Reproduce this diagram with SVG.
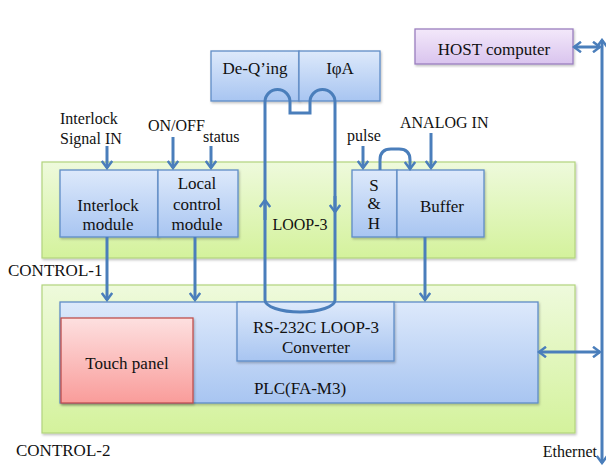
<svg xmlns="http://www.w3.org/2000/svg" width="606" height="468" viewBox="0 0 606 468" font-family="'Liberation Serif', 'DejaVu Serif', 'Times New Roman', serif">
<defs>
<linearGradient id="gGreen" x1="0" y1="0" x2="0" y2="1"><stop offset="0" stop-color="#eefadc"/><stop offset="1" stop-color="#d4f29c"/></linearGradient>
<linearGradient id="gBlue" x1="0" y1="0" x2="0" y2="1"><stop offset="0" stop-color="#dde9fb"/><stop offset="1" stop-color="#a8c5f1"/></linearGradient>
<linearGradient id="gPink" x1="0" y1="0" x2="0" y2="1"><stop offset="0" stop-color="#fde0e0"/><stop offset="1" stop-color="#f99c9a"/></linearGradient>
<linearGradient id="gPurple" x1="0" y1="0" x2="0" y2="1"><stop offset="0" stop-color="#f3e8fa"/><stop offset="1" stop-color="#d9c4ee"/></linearGradient>
<filter id="sh" x="-5%" y="-5%" width="110%" height="115%"><feDropShadow dx="1" dy="1.5" stdDeviation="1" flood-color="#000" flood-opacity="0.25"/></filter>
<marker id="arr" viewBox="0 0 12 12" refX="10" refY="6" markerWidth="12" markerHeight="12" markerUnits="userSpaceOnUse" orient="auto-start-reverse">
<path d="M3,0.8 L10,6 L3,11.2" fill="none" stroke="#4a7ebb" stroke-width="2.5" stroke-linejoin="miter"/>
</marker>
</defs>
<style>
text{font-family:'Liberation Serif','DejaVu Serif','Times New Roman',serif;font-size:17px;fill:#111}
.c{text-anchor:middle}
.sm{font-size:16px}
.green{fill:url(#gGreen);stroke:#b2d47e;stroke-width:1.2;filter:url(#sh)}
.blue{fill:url(#gBlue);stroke:#5f8cc6;stroke-width:1.3;filter:url(#sh)}
.pink{fill:url(#gPink);stroke:#c0504d;stroke-width:1.3;filter:url(#sh)}
.purple{fill:url(#gPurple);stroke:#9a7fbf;stroke-width:1.3;filter:url(#sh)}
.ln{fill:none;stroke:#4a7ebb;stroke-width:3}
.a{fill:none;stroke:#4a7ebb;stroke-width:3;marker-end:url(#arr)}
.aa{fill:none;stroke:#4a7ebb;stroke-width:3;marker-end:url(#arr);marker-start:url(#arr)}
</style>

<g id="control1">
<rect class="green" x="42" y="162" width="533" height="96"/>
<text x="8" y="276">CONTROL-1</text>
</g>
<g id="control2">
<rect class="green" x="42" y="285" width="533" height="148"/>
<text x="16" y="456">CONTROL-2</text>
</g>

<g id="host">
<rect class="purple" x="415" y="29" width="158" height="35"/>
<text class="c" x="494" y="55">HOST computer</text>
</g>

<g id="deq">
<rect class="blue" x="211" y="51" width="88" height="50"/>
<text class="c" x="255" y="74">De-Q’ing</text>
</g>
<g id="ipa">
<rect class="blue" x="299" y="51" width="81" height="50"/>
<text class="c" x="340" y="74">IφA</text>
</g>

<g id="interlock">
<rect class="blue" x="60" y="170" width="98" height="67"/>
<text class="c" x="108" y="211">Interlock</text>
<text class="c" x="108" y="230">module</text>
</g>
<g id="localcontrol">
<rect class="blue" x="158" y="170" width="80" height="67"/>
<text class="c" x="197" y="189">Local</text>
<text class="c" x="197" y="210">control</text>
<text class="c" x="197" y="230">module</text>
</g>
<g id="sh">
<rect class="blue" x="352" y="170" width="45" height="67"/>
<text class="c" x="374" y="191">S</text>
<text class="c" x="374" y="209">&amp;</text>
<text class="c" x="374" y="229">H</text>
</g>
<g id="buffer">
<rect class="blue" x="397" y="170" width="87" height="67"/>
<text class="c" x="442" y="212">Buffer</text>
</g>

<g id="plc">
<rect class="blue" x="60" y="302" width="478" height="101"/>
<text class="c" x="300" y="394">PLC(FA-M3)</text>
</g>
<g id="touch">
<rect class="pink" x="61" y="318" width="132" height="85"/>
<text class="c" x="127" y="369">Touch panel</text>
</g>
<g id="rs232">
<rect class="blue" x="237" y="302" width="157" height="59"/>
<text class="c" x="316" y="333">RS-232C LOOP-3</text>
<text class="c" x="316" y="353">Converter</text>
</g>

<g id="labels">
<text class="sm" x="60" y="124">Interlock</text>
<text class="sm" x="60" y="144">Signal IN</text>
<text class="sm" x="148" y="131">ON/OFF</text>
<text class="sm" x="203" y="142">status</text>
<text class="sm" x="347" y="141">pulse</text>
<text class="sm" x="400" y="128">ANALOG IN</text>
<text class="sm c" x="300" y="230">LOOP-3</text>
<text class="sm" x="597" y="457" text-anchor="end">Ethernet</text>
</g>

<g id="connectors">
<path class="ln" d="M265,300 V102 A12.5,12.5 0 0 1 290,102 V113 H310 V102 A12.5,12.5 0 0 1 335,102 V300 A35,12 0 0 1 265,300 Z"/>
<path class="a" d="M265,220 V200"/>
<path class="a" d="M335,196 V212"/>
<path class="aa" d="M602,40 V463"/>
<path class="aa" d="M574,47 H600"/>
<path class="aa" d="M539,352 H600"/>
<path class="a" d="M107,146 V168"/>
<path class="a" d="M173,137 V168"/>
<path class="a" d="M211,146 V168"/>
<path class="a" d="M363,146 V168"/>
<path class="a" d="M431,133 V168"/>
<path class="a" d="M380,170 V160 Q380,149 391,149 H399 Q410,149 410,160 V169"/>
<path class="a" d="M107,237 V300"/>
<path class="a" d="M195,237 V300"/>
<path class="a" d="M425,237 V300"/>
</g>
</svg>
